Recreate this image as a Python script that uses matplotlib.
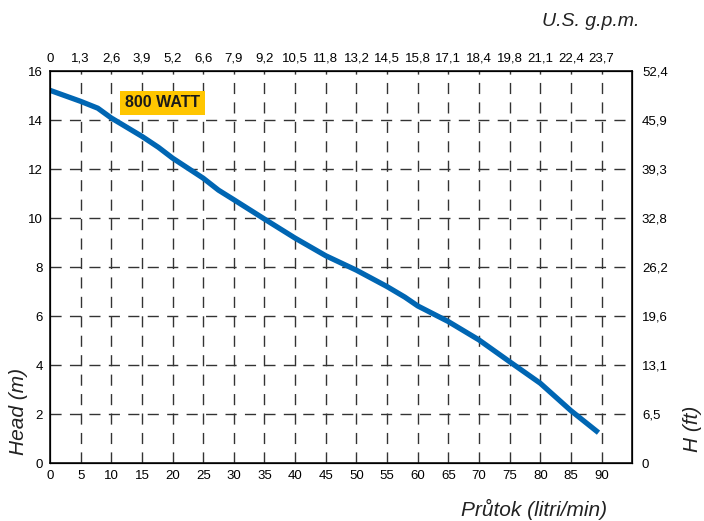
import matplotlib
matplotlib.use("Agg")
import matplotlib.pyplot as plt

# Data
flow_lpm = [0, 5, 7.8, 10, 15, 17.7, 20, 25, 27.5, 30, 35, 40, 45, 50, 55, 57.9, 60, 65, 70, 75, 80, 85, 89.5]
head_m = [15.23, 14.78, 14.5, 14.1, 13.35, 12.9, 12.46, 11.64, 11.15, 10.76, 9.97, 9.19, 8.47, 7.88, 7.21, 6.78, 6.42, 5.78, 5.03, 4.14, 3.26, 2.14, 1.24]

bottom_ticks = list(range(0, 95, 5))
gpm_labels = ["0", "1,3", "2,6", "3,9", "5,2", "6,6", "7,9", "9,2", "10,5", "11,8", "13,2",
              "14,5", "15,8", "17,1", "18,4", "19,8", "21,1", "22,4", "23,7"]
head_ticks = list(range(0, 18, 2))
ft_labels = ["0", "6,5", "13,1", "19,6", "26,2", "32,8", "39,3", "45,9", "52,4"]

plt.rcParams['font.family'] = ['Liberation Sans', 'DejaVu Sans']

fig = plt.figure(figsize=(7.04, 5.21), dpi=100)
ax = fig.add_axes([0.071, 0.1113, 0.827, 0.7515])
ax.set_xlim(0, 95)
ax.set_ylim(0, 16)

grid_kw = dict(color='#333333', linewidth=1.0, dashes=(8, 6), zorder=1)
for x in bottom_ticks[1:]:
    ax.axvline(x, **grid_kw)
for y in head_ticks[1:-1]:
    ax.axhline(y, **grid_kw)

ax.plot(flow_lpm, head_m, color='#0066B3', linewidth=3.8, solid_capstyle='butt',
        solid_joinstyle='round', zorder=3)

ax.set_xticks(bottom_ticks)
ax.set_xticklabels([str(t) for t in bottom_ticks])
ax.set_yticks(head_ticks)
ax.set_yticklabels([str(t) for t in head_ticks])
ax.tick_params(length=0, labelsize=9.5, pad=5)

for s in ax.spines.values():
    s.set_linewidth(1.2)
    s.set_color('#111111')

axt = ax.twiny()
axt.set_xlim(ax.get_xlim())
axt.set_xticks(bottom_ticks)
axt.set_xticklabels(gpm_labels)
axt.tick_params(length=0, labelsize=9.5, pad=5)

axr = ax.twinx()
axr.set_ylim(ax.get_ylim())
axr.set_yticks(head_ticks)
axr.set_yticklabels(ft_labels)
axr.tick_params(length=0, labelsize=9.5, pad=7)

ax.text(18.4, 14.72, "800 WATT", ha='center', va='center', fontsize=11.5, fontweight='bold',
        color='#1a1a1a', zorder=5,
        bbox=dict(boxstyle='square,pad=0.3', facecolor='#FFC600', edgecolor='none'))

fig.text(0.026, 0.127, "Head (m)", rotation=90, ha='center', va='bottom', fontsize=15,
         style='italic', color='#222222')
fig.text(0.984, 0.132, "H (ft)", rotation=90, ha='center', va='bottom', fontsize=15,
         style='italic', color='#222222')
fig.text(0.908, 0.958, "U.S. g.p.m.", ha='right', va='center', fontsize=14,
         style='italic', color='#222222')
fig.text(0.862, 0.022, "Průtok (litri/min)", ha='right', va='center', fontsize=15,
         style='italic', color='#222222')

fig.savefig("out.png", dpi=100)
